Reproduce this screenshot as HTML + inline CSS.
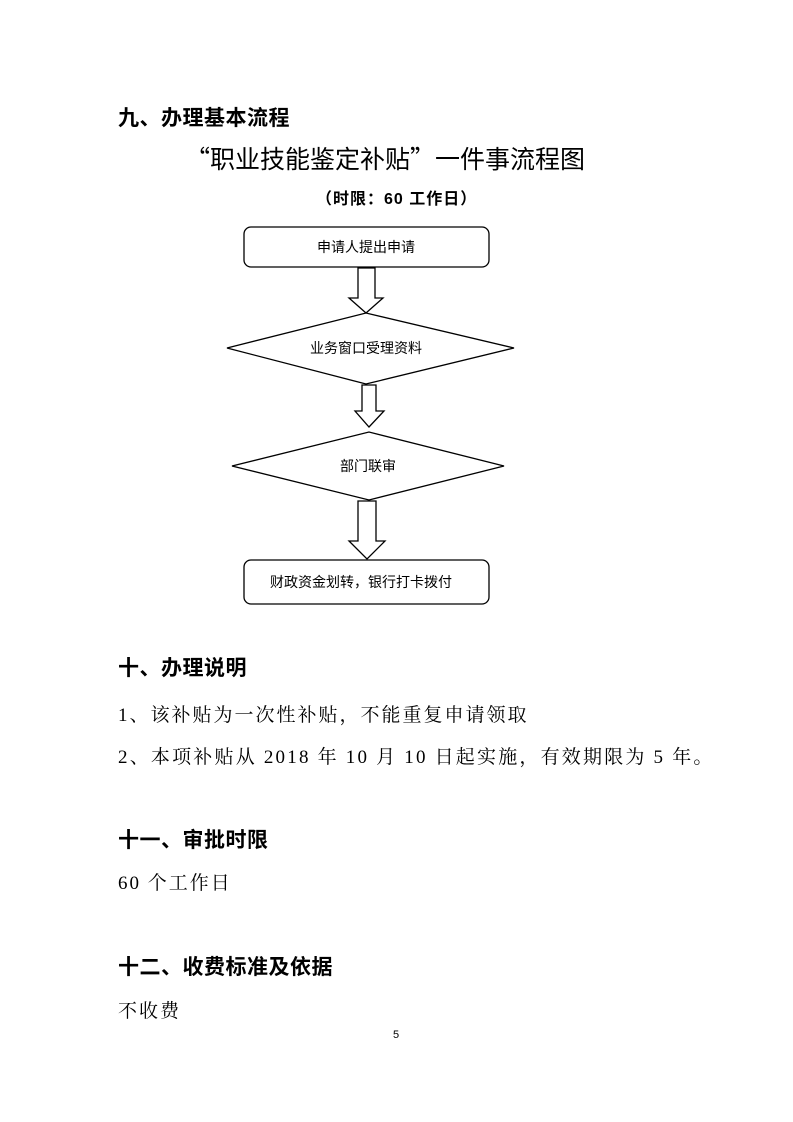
<!DOCTYPE html>
<html><head><meta charset="utf-8"><style>
body{margin:0;background:#fff;}
.p{position:relative;width:793px;height:1122px;overflow:hidden;font-family:"Liberation Serif","Noto Serif CJK SC","Noto Sans CJK SC",serif;color:#000;}
.t{position:absolute;white-space:nowrap;line-height:1;}
.h{font-family:"Liberation Sans","Noto Sans CJK SC",sans-serif;font-weight:bold;font-size:21px;letter-spacing:0.5px;}
.b{font-size:19px;letter-spacing:2px;}
</style></head><body><div class="p">
<div class="t h" style="left:118px;top:108px;">九、办理基本流程</div>
<div class="t" style="left:185px;top:146px;font-size:25px;font-family:'Noto Sans CJK SC',sans-serif;">“职业技能鉴定补贴”一件事流程图</div>
<div class="t" style="left:316px;top:192px;font-size:16px;font-weight:bold;font-family:'Liberation Sans','Noto Sans CJK SC',sans-serif;letter-spacing:1px;">（时限：60 工作日）</div>
<svg width="793" height="1122" style="position:absolute;left:0;top:0" font-family="Liberation Sans, Noto Sans CJK SC, sans-serif" font-size="14">
<g fill="#fff" stroke="#000" stroke-width="1.3">
<rect x="244" y="227" width="245" height="40" rx="7"/>
<polygon points="358,268 375,268 375,298 383,298 366,313 349,298 358,298"/>
<polygon points="227,348 366,313 514,348 366,384"/>
<polygon points="362,385 376,385 376,411 384,411 369,427 355,411 362,411"/>
<polygon points="232,466 369,432 504,466 369,500"/>
<polygon points="358,501 376,501 376,541 385,541 367,559 349,541 358,541"/>
<rect x="244" y="560" width="245" height="44" rx="7"/>
</g>
<text x="366" y="252" text-anchor="middle">申请人提出申请</text>
<text x="366" y="353" text-anchor="middle">业务窗口受理资料</text>
<text x="368" y="471" text-anchor="middle">部门联审</text>
<text x="270" y="587">财政资金划转，银行打卡拨付</text>
</svg>
<div class="t h" style="left:118px;top:658px;">十、办理说明</div>
<div class="t b" style="left:118px;top:706px;">1、该补贴为一次性补贴，不能重复申请领取</div>
<div class="t b" style="left:118px;top:748px;letter-spacing:2.2px;">2、本项补贴从 2018 年 10 月 10 日起实施，有效期限为 5 年。</div>
<div class="t h" style="left:118px;top:830px;">十一、审批时限</div>
<div class="t b" style="left:118px;top:874px;">60 个工作日</div>
<div class="t h" style="left:118px;top:957px;">十二、收费标准及依据</div>
<div class="t b" style="left:118px;top:1002px;">不收费</div>
<div class="t" style="left:393px;top:1030px;font-size:11px;font-family:'Liberation Sans',sans-serif;">5</div>
</div></body></html>
